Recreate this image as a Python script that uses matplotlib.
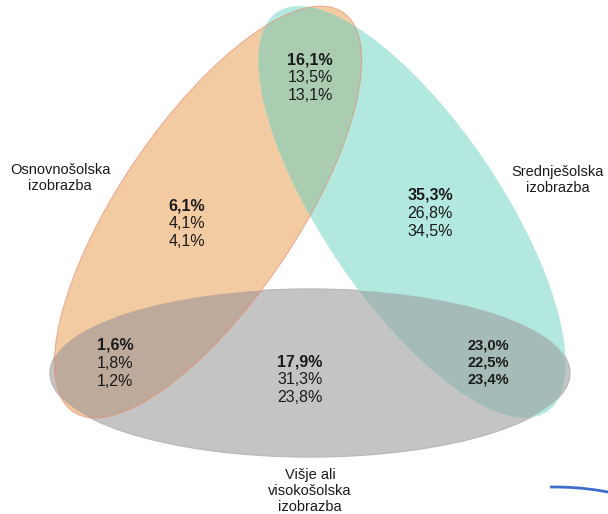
import numpy as np
import matplotlib
matplotlib.use('Agg')
import matplotlib.pyplot as plt
from matplotlib.patches import Ellipse, Arc

plt.rcParams['font.family'] = ['Liberation Sans', 'DejaVu Sans']

# data: shares per region of the diagram (three rows per region)
regions = ['osnovna', 'osnovna+srednja', 'srednja', 'osnovna+visja', 'visja', 'srednja+visja']
row1 = [6.1, 16.1, 35.3, 1.6, 17.9, 23.0]
row2 = [4.1, 13.5, 26.8, 1.8, 31.3, 22.5]
row3 = [4.1, 13.1, 34.5, 1.2, 23.8, 23.4]
set_labels = ['Osnovnošolska\nizobrazba', 'Srednješolska\nizobrazba', 'Višje ali\nvisokošolska\nizobrazba']

# layout (pixel coords, y down)
pos = {'osnovna': (187, 206), 'osnovna+srednja': (310, 60), 'srednja': (430, 195),
       'osnovna+visja': (115, 345), 'visja': (300, 362), 'srednja+visja': (488, 346)}
label_pos = [(60, 170), (558, 172), (310, 475)]

c_or, c_te, c_gr = '#F3CBA2', '#B3E8DF', '#C4C4C4'
c_or_te, c_te_gr, c_or_gr = '#AACDB2', '#A5BBB7', '#BEAA9B'

fig = plt.figure(figsize=(6.08, 5.14), dpi=100)
ax = fig.add_axes([0, 0, 1, 1])
ax.set_xlim(0, 608)
ax.set_ylim(514, 0)
ax.axis('off')

def ell(kind, **kw):
    if kind == 'or':
        e = Ellipse((208, 212), 482, 178, angle=-56, **kw)
    elif kind == 'te':
        e = Ellipse((412, 212), 482, 178, angle=56, **kw)
    else:
        e = Ellipse((310, 373), 520, 168, angle=0, **kw)
    return e

ax.add_patch(ell('gr', facecolor=c_gr, edgecolor='#BBBBBB', lw=1.0, zorder=1))
ax.add_patch(ell('or', facecolor=c_or, edgecolor='none', zorder=1))
ax.add_patch(ell('te', facecolor=c_te, edgecolor='none', zorder=1))

# overlaps
for a, b, col in [('or', 'te', c_or_te), ('te', 'gr', c_te_gr), ('or', 'gr', c_or_gr)]:
    p = ax.add_patch(ell(b, facecolor=col, edgecolor='none', zorder=2))
    clip = ell(a)
    clip.set_transform(ax.transData)
    p.set_clip_path(clip)

# thin red outline of the orange set
ax.add_patch(ell('or', facecolor='none', edgecolor='#E58A72', lw=0.8, zorder=3, alpha=0.6))

def fmt(v):
    return ('%.1f%%' % v).replace('.', ',')

for i, r in enumerate(regions):
    x, y = pos[r]
    small = r == 'srednja+visja'
    step = 16.5 if small else 18
    fs = 10.5 if small else 11.5
    for j, v in enumerate([row1[i], row2[i], row3[i]]):
        bold = (j == 0) or small
        ax.text(x, y + j * step, fmt(v), ha='center', va='center', fontsize=fs,
                fontweight='bold' if bold else 'normal', color='#1a1a1a', zorder=5)

for lab, (x, y) in zip(set_labels, label_pos):
    for j, line in enumerate(lab.split('\n')):
        ax.text(x, y + j * 16, line, ha='center', va='center', fontsize=10.5,
                color='#1a1a1a', zorder=5)

# stray blue arc at the bottom right
ax.add_patch(Arc((555, 768), 562, 562, theta1=269, theta2=290, color='#3C6FC9', lw=2, zorder=4))

fig.savefig('out.png', dpi=100)
